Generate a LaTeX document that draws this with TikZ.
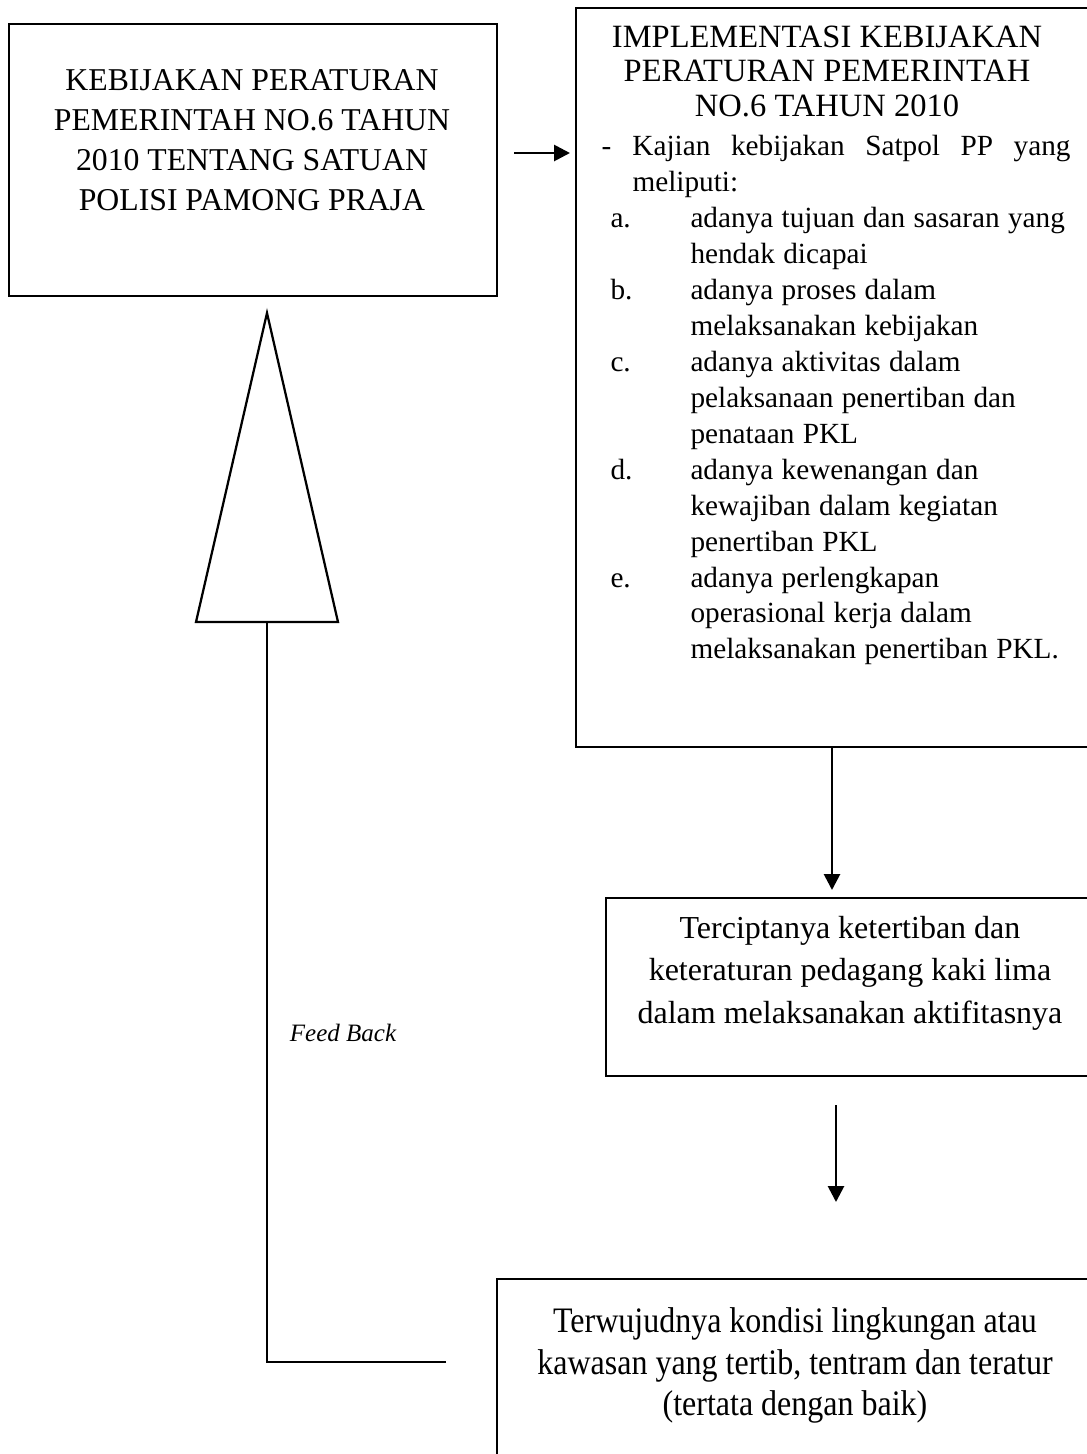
\documentclass[tikz,border=0pt]{standalone}
\usepackage{fontspec}
\setmainfont{Liberation Serif}
\usetikzlibrary{arrows.meta}

\newcommand{\satuan}{0.4pt}
\newcommand{\butir}[2]{\par\hangindent=35.6pt\hangafter=1\noindent\hspace*{3.6pt}\makebox[32pt][l]{#1}#2\par}

\begin{document}
\begin{tikzpicture}[x=0.4pt, y=-0.4pt,
	kotak/.style={draw, line width=0.8pt, inner sep=0pt, anchor=north west},
	panah/.style={line width=1.1pt, -{Triangle[length=6.4pt,width=6.4pt]}},
	garis/.style={line width=0.9pt},
	teks/.style={inner sep=0pt, align=center}]
 \clip (0,0) rectangle (1087,1454);

 \node[kotak, minimum width=488*\satuan, minimum height=272*\satuan] (kebijakan) at (8,23) {};
 \node[kotak, minimum width=530*\satuan, minimum height=739*\satuan] (implementasi) at (575,7) {};
 \node[kotak, minimum width=500*\satuan, minimum height=178*\satuan] (tertib) at (605,897) {};
 \node[kotak, minimum width=610*\satuan, minimum height=260*\satuan] (wujud) at (496,1278) {};

 \node[teks, anchor=north, font=\fontsize{12.7}{16}\selectfont] (judul) at (252,69)
 	{KEBIJAKAN PERATURAN\\PEMERINTAH NO.6 TAHUN\\2010 TENTANG SATUAN\\POLISI PAMONG PRAJA};

 \node[inner sep=0pt, anchor=north west, text width=187.6pt] (isi) at (601,25) {%
 	{\fontsize{13}{13.8}\selectfont\centering\rightskip=7.2pt plus 1fil IMPLEMENTASI KEBIJAKAN\\PERATURAN PEMERINTAH\\NO.6 TAHUN 2010\par}
 	\vspace{1.6pt}
 	\fontsize{11.7}{14.37}\selectfont
 	\hangindent=12.4pt\hangafter=1\noindent\makebox[12.4pt][l]{-}\hbox to 175.2pt{Kajian\hfill kebijakan\hfill Satpol\hfill PP\hfill yang}\newline meliputi:\par
 	\butir{a.}{adanya tujuan dan sasaran yang\newline hendak dicapai}
 	\butir{b.}{adanya proses dalam\newline melaksanakan kebijakan}
 	\butir{c.}{adanya aktivitas dalam\newline pelaksanaan penertiban dan\newline penataan PKL}
 	\butir{d.}{adanya kewenangan dan\newline kewajiban dalam kegiatan\newline penertiban PKL}
 	\butir{e.}{adanya perlengkapan\newline operasional kerja dalam\newline melaksanakan penertiban PKL.}};

 \node[teks, font=\fontsize{12.8}{17}\selectfont] (hasil) at (850,973)
 	{Terciptanya ketertiban dan\\keteraturan pedagang kaki lima\\dalam melaksanakan aktifitasnya};

 \node[inner sep=0pt] (kondisi) at (795,1366) {\scalebox{1}[1.12]{\fontsize{12.8}{14.8}\selectfont
 	\begin{tabular}{@{}c@{}}Terwujudnya kondisi lingkungan atau\\kawasan yang tertib, tentram dan teratur\\(tertata dengan baik)\end{tabular}}};

 \node[inner sep=0pt, font=\fontsize{10}{12}\selectfont\itshape] (umpan) at (343,1033) {Feed Back};

 \draw[garis] (267,313) -- (338,622) -- (196,622) -- cycle;

 \coordinate (alas) at (267,622);
 \coordinate (y1) at (0,153);
 \coordinate (x2) at (832,0);
 \coordinate (x3) at (836,0);
 \coordinate (y4) at (0,1362);

 \draw[panah, shorten <=6.4pt, shorten >=2pt] (kebijakan.east |- y1) -- (implementasi.west |- y1);
 \draw[panah, shorten >=2.8pt] (implementasi.south -| x2) -- (tertib.north -| x2);
 \draw[panah, shorten <=11.2pt, shorten >=30.4pt] (tertib.south -| x3) -- (wujud.north -| x3);
 \draw[garis, shorten <=20pt] (wujud.west |- y4) -| (alas);
\end{tikzpicture}
\end{document}
